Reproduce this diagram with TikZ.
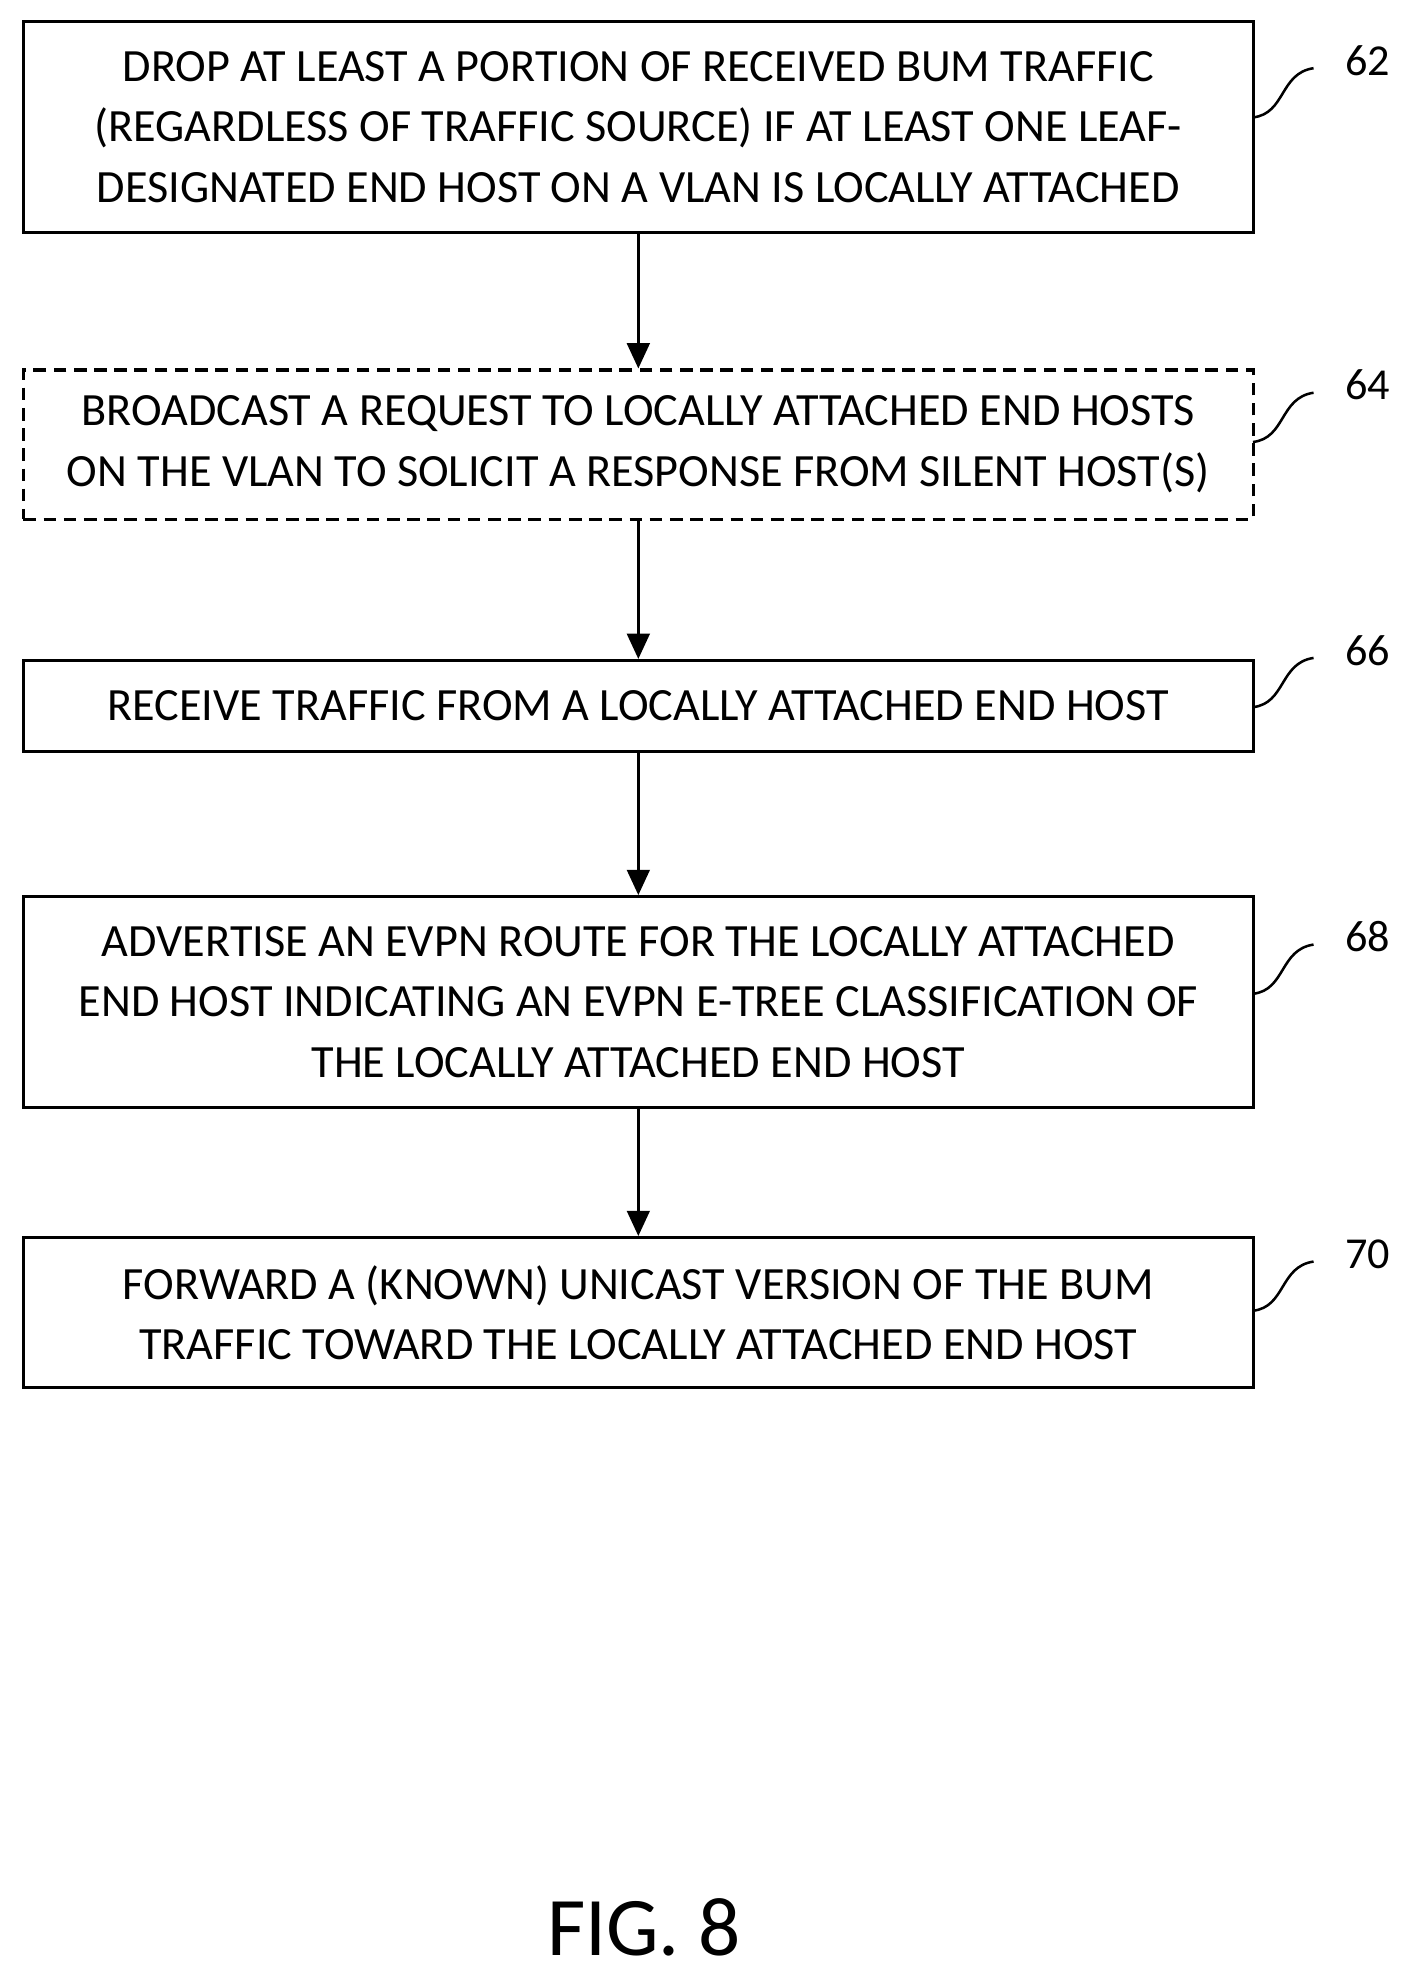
\documentclass[tikz,border=0pt]{standalone}
\usepackage{fontspec}
\setmainfont{Carlito}
\usetikzlibrary{calc,arrows.meta}
\begin{document}
\begin{tikzpicture}[x=0.5pt,y=-0.5pt,
  box/.style={draw,line width=1.2pt,minimum width=487pt,align=center,font=\fontsize{18.3}{24}\selectfont,inner sep=0pt},
  lab/.style={font=\fontsize{17.5}{20}\selectfont,anchor=center},
  arr/.style={line width=1pt,-{Triangle[length=10pt,width=9pt]}},
  sq/.style={line width=1pt}]
\useasboundingbox (0,0) rectangle (1115,1564);
\node[box,minimum height=83.5pt] (b62) at (505.5,100.5) {DROP AT LEAST A PORTION OF RECEIVED BUM TRAFFIC\\(REGARDLESS OF TRAFFIC SOURCE) IF AT LEAST ONE LEAF-\\DESIGNATED END HOST ON A VLAN IS LOCALLY ATTACHED};
\node[box,minimum height=59pt,dashed,dash pattern=on 5pt off 3pt] (b64) at (505.5,352) {BROADCAST A REQUEST TO LOCALLY ATTACHED END HOSTS\\ON THE VLAN TO SOLICIT A RESPONSE FROM SILENT HOST(S)};
\node[box,minimum height=36pt] (b66) at (505.5,559) {RECEIVE TRAFFIC FROM A LOCALLY ATTACHED END HOST};
\node[box,minimum height=83.5pt] (b68) at (505.5,793.5) {ADVERTISE AN EVPN ROUTE FOR THE LOCALLY ATTACHED\\END HOST INDICATING AN EVPN E-TREE CLASSIFICATION OF\\THE LOCALLY ATTACHED END HOST};
\node[box,minimum height=59.5pt] (b70) at (505.5,1039.5) {FORWARD A (KNOWN) UNICAST VERSION OF THE BUM\\TRAFFIC TOWARD THE LOCALLY ATTACHED END HOST};
\draw[arr] (b62) -- (b64);
\draw[arr] (b64) -- (b66);
\draw[arr] (b66) -- (b68);
\draw[arr] (b68) -- (b70);
\foreach \n/\y in {62/48,64/305,66/515,68/742,70/993}{
  \node[lab] (l\n) at (1083,\y) {\n};
  \draw[sq] ($(l\n.west)+(-66,45)$) .. controls ($(l\n.west)+(-40,42)$) and ($(l\n.west)+(-45,10)$) .. ($(l\n.west)+(-18,6)$);
}
\node[font=\fontsize{33}{36}\selectfont,inner sep=0pt] (fig) at (510,1526) {FIG. 8};
\end{tikzpicture}
\end{document}
